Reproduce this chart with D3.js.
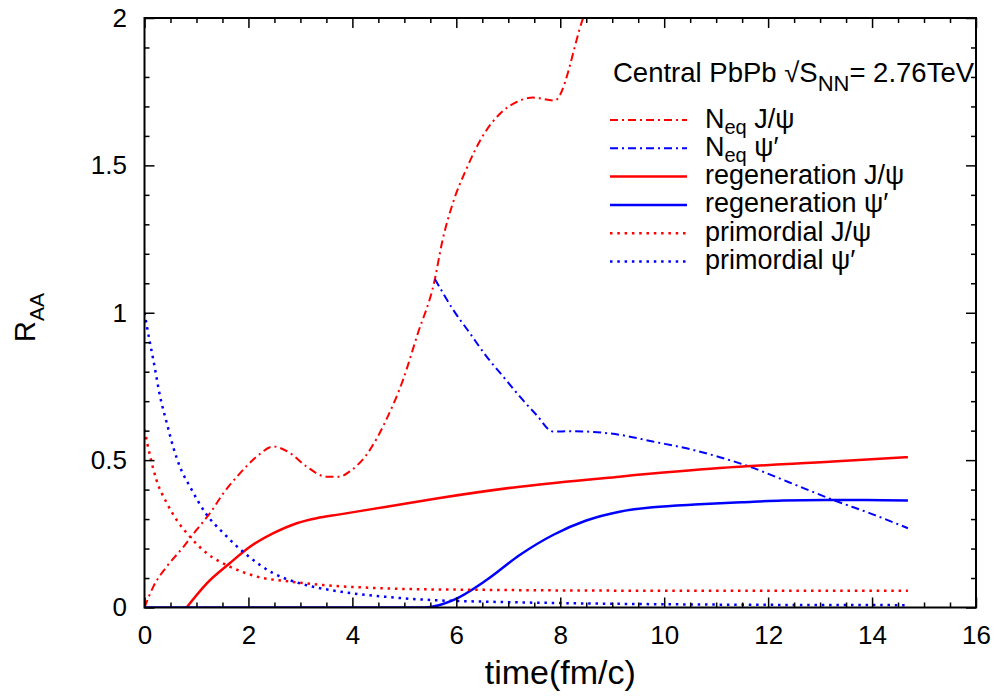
<!DOCTYPE html>
<meta charset="utf-8">
<script src="https://d3js.org/d3.v7.min.js"></script>
<style>
  body { margin: 0; background: #fff; }
  text { font-family: "Liberation Sans", Arial, sans-serif; fill: #000; }
</style>
<div id="chart"></div>
<script>
// N_eq J/psi (red dash-dot)
var neqJpsiT = [0, 0.17, 0.43, 0.75, 1.0, 1.26, 1.52, 1.84, 2.16, 2.48, 2.8, 3.12, 3.5, 3.76, 3.95, 4.28, 4.66, 4.97, 5.26, 5.57, 5.74, 5.93, 6.2, 6.51, 6.84, 7.16, 7.48, 7.89, 8.44, 8.7];
var neqJpsiR = [0, 0.071, 0.139, 0.206, 0.263, 0.32, 0.388, 0.456, 0.512, 0.546, 0.524, 0.478, 0.444, 0.444, 0.462, 0.52, 0.64, 0.77, 0.93, 1.1, 1.25, 1.37, 1.49, 1.6, 1.675, 1.715, 1.73, 1.72, 2.0, 2.13];
// N_eq psi' (blue dash-dot)
var neqPsiT = [5.59, 5.94, 6.26, 6.58, 6.9, 7.22, 7.54, 7.86, 8.2, 8.5, 9.14, 9.78, 10.43, 11.07, 11.64, 12.4, 13.25, 14.0, 14.69];
var neqPsiR = [1.114, 1.01, 0.931, 0.852, 0.784, 0.716, 0.654, 0.597, 0.598, 0.597, 0.586, 0.563, 0.54, 0.51, 0.478, 0.425, 0.365, 0.317, 0.269];
// regeneration J/psi (red solid)
var regJpsiT = [0.81, 1.2, 1.64, 2.03, 2.48, 2.93, 3.31, 3.76, 4.66, 5.62, 7.22, 9.14, 11.07, 13.25, 14.69];
var regJpsiR = [0, 0.082, 0.15, 0.206, 0.252, 0.286, 0.303, 0.316, 0.342, 0.37, 0.41, 0.444, 0.473, 0.495, 0.51];
// regeneration psi' (blue solid)
var regPsiT = [0, 5.4, 5.94, 6.58, 7.22, 7.86, 8.5, 9.14, 9.78, 10.68, 11.5, 12.28, 13.1, 13.89, 14.69];
var regPsiR = [0, 0, 0.025, 0.093, 0.178, 0.246, 0.295, 0.325, 0.34, 0.35, 0.357, 0.363, 0.365, 0.365, 0.363];
// primordial J/psi (red dotted)
var priJpsiT = [0, 0.11, 0.23, 0.43, 0.62, 0.875, 1.2, 1.64, 2.16, 2.8, 3.44, 4.2, 5.0, 6.5, 8, 10, 12, 14.69];
var priJpsiR = [0.603, 0.512, 0.433, 0.354, 0.297, 0.24, 0.184, 0.139, 0.105, 0.088, 0.076, 0.068, 0.063, 0.06, 0.058, 0.057, 0.057, 0.057];
// primordial psi' (blue dotted)
var priPsiT = [0, 0.106, 0.17, 0.3, 0.43, 0.55, 0.68, 0.875, 1.2, 1.52, 1.97, 2.48, 2.99, 3.76, 4.6, 5.55, 6.5, 8, 10, 12, 14.69];
var priPsiR = [1.0, 0.897, 0.84, 0.716, 0.625, 0.546, 0.478, 0.41, 0.314, 0.252, 0.178, 0.116, 0.082, 0.054, 0.037, 0.025, 0.02, 0.015, 0.011, 0.009, 0.008];

var xTicks = [0, 2, 4, 6, 8, 10, 12, 14, 16];
var yTicks = [0, 0.5, 1, 1.5, 2];

var series = [
  {t: neqJpsiT, r: neqJpsiR, color: "#ff0000", dash: "8,4,2,4", w: 2, name: ["N", "eq", " J/\u03c8"]},
  {t: neqPsiT, r: neqPsiR, color: "#0000ff", dash: "8,4,2,4", w: 2, name: ["N", "eq", " \u03c8\u2032"]},
  {t: regJpsiT, r: regJpsiR, color: "#ff0000", dash: null, w: 2.5, name: ["regeneration J/\u03c8", "", ""]},
  {t: regPsiT, r: regPsiR, color: "#0000ff", dash: null, w: 2.5, name: ["regeneration \u03c8\u2032", "", ""]},
  {t: priJpsiT, r: priJpsiR, color: "#ff0000", dash: "2.5,4.8", w: 2.5, name: ["primordial J/\u03c8", "", ""]},
  {t: priPsiT, r: priPsiR, color: "#0000ff", dash: "2.5,4.8", w: 2.5, name: ["primordial \u03c8\u2032", "", ""]}
];

var margin = {top: 18, right: 19, bottom: 91.5, left: 144.5},
    width = 995 - margin.left - margin.right,
    height = 699 - margin.top - margin.bottom;

var svg = d3.select("#chart")
  .append("svg")
    .attr("width", 995)
    .attr("height", 699)
  .append("g")
    .attr("transform", "translate(" + margin.left + "," + margin.top + ")");

var x = d3.scaleLinear().domain([0, 16]).range([0, width]);
var y = d3.scaleLinear().domain([0, 2]).range([height, 0]);

svg.append("clipPath").attr("id", "clip")
  .append("rect").attr("width", width).attr("height", height);

// curves
var line = d3.line()
  .x(function(d) { return x(d[0]); })
  .y(function(d) { return y(d[1]); })
  .curve(d3.curveMonotoneX);

series.forEach(function(s) {
  var pts = s.t.map(function(t, i) { return [t, s.r[i]]; });
  svg.append("path")
    .datum(pts)
    .attr("clip-path", "url(#clip)")
    .attr("fill", "none")
    .attr("stroke", s.color)
    .attr("stroke-width", s.w)
    .attr("stroke-dasharray", s.dash)
    .attr("d", line);
});

// axes, ticks inward on all four sides
var xMinor = d3.range(0, 16.01, 0.5).filter(function(v) { return v % 2 !== 0; });
var yMinor = d3.range(0, 2.001, 0.1).map(function(v) { return +v.toFixed(1); })
  .filter(function(v) { return yTicks.indexOf(v) < 0; });

function styleAxis(g) {
  g.select(".domain").remove();
  g.selectAll("line").attr("stroke", "#000").attr("stroke-width", 1.5);
  g.selectAll("text").style("font-family", "Liberation Sans, Arial, sans-serif").style("font-size", "26px").attr("fill", "#000");
}

svg.append("g").attr("transform", "translate(0," + height + ")")
  .call(d3.axisBottom(x).tickValues(xTicks).tickSize(-10).tickPadding(18).tickFormat(d3.format("d")))
  .call(styleAxis);
svg.append("g").attr("transform", "translate(0," + height + ")")
  .call(d3.axisBottom(x).tickValues(xMinor).tickSize(-5).tickFormat(""))
  .call(styleAxis);
svg.append("g")
  .call(d3.axisTop(x).tickValues(xTicks).tickSize(-10).tickFormat(""))
  .call(styleAxis);
svg.append("g")
  .call(d3.axisTop(x).tickValues(xMinor).tickSize(-5).tickFormat(""))
  .call(styleAxis);
svg.append("g")
  .call(d3.axisLeft(y).tickValues(yTicks).tickSize(-10).tickPadding(17.5).tickFormat(d3.format("")))
  .call(styleAxis);
svg.append("g")
  .call(d3.axisLeft(y).tickValues(yMinor).tickSize(-5).tickFormat(""))
  .call(styleAxis);
svg.append("g").attr("transform", "translate(" + width + ",0)")
  .call(d3.axisRight(y).tickValues(yTicks).tickSize(-10).tickFormat(""))
  .call(styleAxis);
svg.append("g").attr("transform", "translate(" + width + ",0)")
  .call(d3.axisRight(y).tickValues(yMinor).tickSize(-5).tickFormat(""))
  .call(styleAxis);

// frame
svg.append("rect")
  .attr("width", width).attr("height", height)
  .attr("fill", "none").attr("stroke", "#000").attr("stroke-width", 2);

// axis labels
svg.append("text")
  .attr("text-anchor", "middle")
  .attr("x", width / 2)
  .attr("y", height + 76)
  .style("font-size", "34px")
  .text("time(fm/c)");

var yl = svg.append("text")
  .attr("transform", "translate(" + (35 - margin.left) + "," + (342 - margin.top) + ") rotate(-90)")
  .style("font-size", "29px");
yl.append("tspan").text("R");
yl.append("tspan").attr("dy", 9).style("font-size", "21px").text("AA");

// legend title
var lt = svg.append("text")
  .attr("x", 613 - margin.left)
  .attr("y", 82 - margin.top)
  .style("font-size", "27.5px");
lt.append("tspan").text("Central PbPb \u221aS");
lt.append("tspan").attr("dy", 9).style("font-size", "22px").text("NN");
lt.append("tspan").attr("dy", -9).text("= 2.76TeV");

// legend entries
var legendY0 = 120 - margin.top, legendStep = 28.3;
series.forEach(function(s, i) {
  var ly = legendY0 + i * legendStep;
  svg.append("line")
    .attr("x1", 610 - margin.left).attr("x2", 687 - margin.left)
    .attr("y1", ly).attr("y2", ly)
    .attr("stroke", s.color)
    .attr("stroke-width", s.w)
    .attr("stroke-dasharray", s.dash);
  var t = svg.append("text")
    .attr("x", 705 - margin.left)
    .attr("y", ly + 7.5)
    .style("font-size", "27px");
  t.append("tspan").text(s.name[0]);
  if (s.name[1]) {
    t.append("tspan").attr("dy", 6.5).style("font-size", "20px").text(s.name[1]);
    t.append("tspan").attr("dy", -6.5).text(s.name[2]);
  }
});
</script>
